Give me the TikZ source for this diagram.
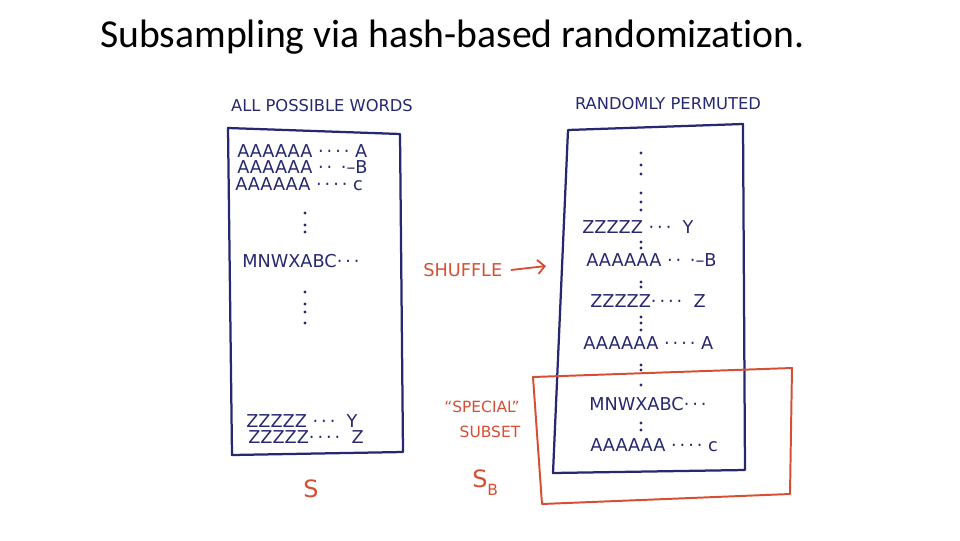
\documentclass[tikz,border=0pt]{standalone}
\usepackage{fontspec}
\setmainfont{Carlito}[Ligatures=NoCommon]
\newfontfamily\handfont{DejaVu Sans}
\usetikzlibrary{arrows.meta,positioning}
\definecolor{ink}{RGB}{38,40,112}
\definecolor{redink}{RGB}{214,78,52}
\tikzset{
  word/.style={font=\handfont\fontsize{12.6}{12.6}\selectfont, text=ink, inner sep=0pt, anchor=west,
    text height=1.6ex, text depth=0pt},
  heading/.style={font=\handfont\fontsize{11.6}{11.6}\selectfont, text=ink, inner sep=0pt},
  redtext/.style={font=\handfont\fontsize{11}{11}\selectfont, text=redink, inner sep=0pt},
  bigred/.style={font=\handfont\fontsize{17}{17}\selectfont, text=redink, inner sep=0pt},
  wordbox/.style={draw=ink, line width=1.6pt, line join=round},
  subsetbox/.style={draw=redink, line width=1.4pt, line join=round},
  dotmark/.style={fill=ink}
}
\begin{document}
\begin{tikzpicture}[x=0.025cm, y=-0.025cm]
\useasboundingbox (0,0) rectangle (960,540);
\node[anchor=base west, font=\fontsize{28.2}{30}\selectfont, inner sep=0pt] (title) at (100,47) {Subsampling via hash-based randomization.};

% all possible words
\node[heading] (allwords) at (322,106) {ALL POSSIBLE WORDS};
\draw[wordbox] (228,128) -- (400,134) -- (403,452) -- (232,455) -- cycle;
\foreach \x/\y/\t [count=\i] in {237/152/AAAAAA ·\,·\,·\,· A, 237/168/AAAAAA ·\,· \,·–B, 235/185/AAAAAA ·\,·\,·\,· c,
  242/262/MNWXABC·\,·\,·, 246/422/ZZZZZ ·\,·\,·\ \ Y, 248/438/ZZZZZ·\,·\,·\,·\ \ Z}{
\node[word] (s\i) at (\x,\y) {\t};
}
\foreach \y in {213,225,232,292,304,312,323}{
\fill[dotmark] (305,\y) circle[radius=1.1pt];
}
\node[bigred] (S) at (311,489) {S};

% randomly permuted
\node[heading] (permuted) at (668,104) {RANDOMLY PERMUTED};
\draw[wordbox] (568,130) -- (743,124) -- (745,470) -- (553,473) -- cycle;
\foreach \x/\y/\t [count=\i] in {582/228/ZZZZZ ·\,·\,·\ \ Y, 586/261/AAAAAA ·\,· \,·–B, 590/302/ZZZZZ·\,·\,·\,·\ \ Z,
  583/344/AAAAAA ·\,·\,·\,· A, 589/405/MNWXABC·\,·\,·, 590/446/AAAAAA ·\,·\,·\,· c}{
\node[word] (p\i) at (\x,\y) {\t};
}
\foreach \y in {153,165,174,193,202,210,242,248,282,287,317,323,330,365,370,385,423,430}{
\fill[dotmark] (641,\y) circle[radius=1.1pt];
}

% shuffle and subset
\node[redtext, anchor=west, font=\handfont\fontsize{12.6}{12.6}\selectfont] (shuffle) at (423,270) {SHUFFLE};
\coordinate (shuffletip) at (546,266);
\draw[redink, line width=1.3pt, -{Straight Barb[length=5pt]}] ([xshift=6pt]shuffle.east) -- (shuffletip);
\draw[subsetbox] (533,377) -- (792,368) -- (790,494) -- (542,504) -- cycle;
\node[redtext] (special) at (482,407) {“SPECIAL”};
\node[redtext] (subset) at (490,432) {SUBSET};
\node[bigred, anchor=west] (SB) at (472,483) {S\raisebox{-0.6ex}{\fontsize{11}{11}\selectfont B}};
\end{tikzpicture}
\end{document}
